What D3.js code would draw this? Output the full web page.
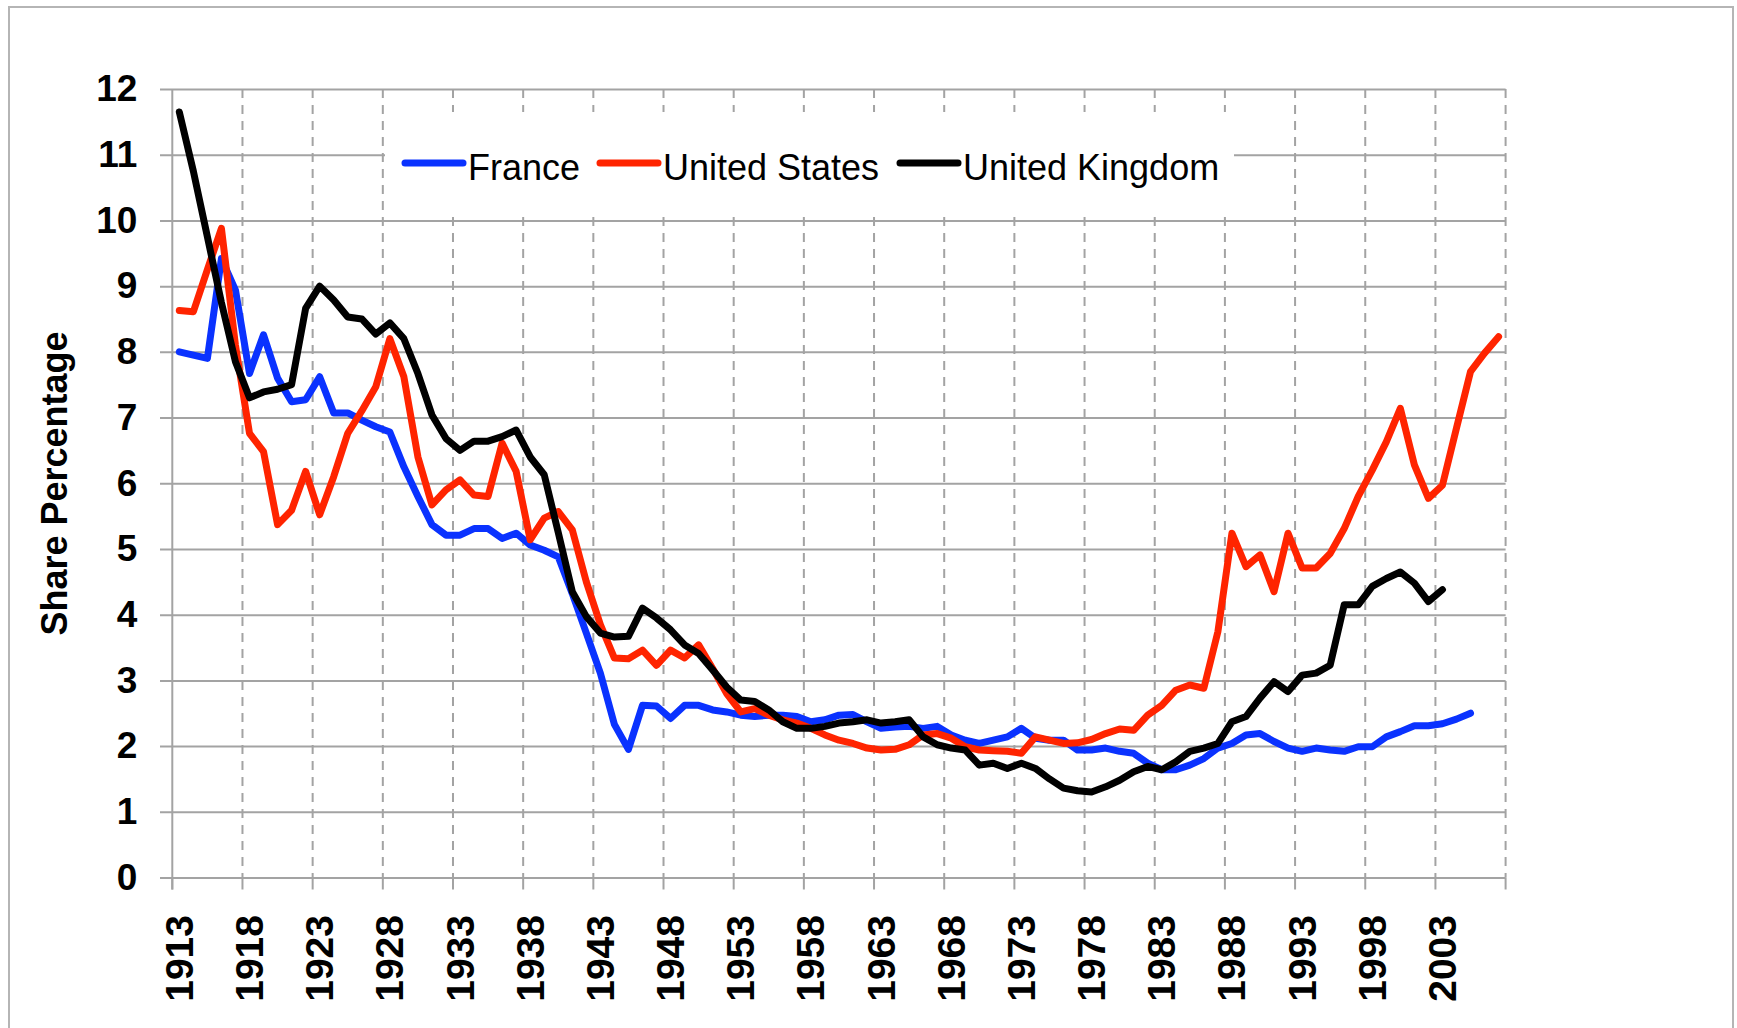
<!DOCTYPE html>
<html>
<head>
<meta charset="utf-8">
<script src="https://cdn.jsdelivr.net/npm/d3@7"></script>
<style>
  html, body { margin: 0; padding: 0; background: #fff; }
  svg { display: block; font-family: "Liberation Sans", Arial, sans-serif; }
</style>
</head>
<body>
<svg id="chart" width="1737" height="1028"></svg>
<script>
// ---------- DATA ----------
const years = d3.range(1913, 2008); // 1913 .. 2007
const tickYears = d3.range(1913, 2004, 5);
const yTicks = d3.range(0, 13);

const france = [
  8.0, 7.95, 7.9, 9.42, 8.94, 7.67, 8.26, 7.6, 7.24, 7.27,
  7.62, 7.07, 7.07, 6.96, 6.86, 6.78, 6.25, 5.8, 5.37, 5.21,
  5.21, 5.31, 5.31, 5.16, 5.24, 5.06, 4.98, 4.88, 4.32, 3.72,
  3.11, 2.33, 1.95, 2.62, 2.61, 2.42, 2.62, 2.62, 2.55, 2.52,
  2.47, 2.45, 2.47, 2.47, 2.45, 2.37, 2.4, 2.47, 2.48, 2.37,
  2.27, 2.29, 2.3, 2.27, 2.3, 2.17, 2.09, 2.04, 2.09, 2.14,
  2.27, 2.12, 2.09, 2.09, 1.94, 1.94, 1.97, 1.92, 1.89, 1.74,
  1.64, 1.64, 1.71, 1.81, 1.97, 2.04, 2.17, 2.19, 2.07, 1.97,
  1.92, 1.97, 1.94, 1.92, 1.99, 1.99, 2.14, 2.22, 2.31, 2.31,
  2.34, 2.41, 2.5, null, null
];

const unitedStates = [
  8.63, 8.61, 9.25, 9.88, 8.1, 6.76, 6.48, 5.37, 5.59, 6.18,
  5.52, 6.1, 6.76, 7.1, 7.47, 8.2, 7.62, 6.4, 5.67, 5.9,
  6.05, 5.82, 5.8, 6.61, 6.18, 5.14, 5.47, 5.57, 5.29, 4.5,
  3.85, 3.34, 3.33, 3.46, 3.23, 3.46, 3.34, 3.54, 3.18, 2.8,
  2.52, 2.57, 2.47, 2.4, 2.35, 2.27, 2.17, 2.09, 2.04, 1.97,
  1.94, 1.95, 2.02, 2.17, 2.19, 2.12, 1.99, 1.94, 1.93, 1.92,
  1.89, 2.14, 2.09, 2.04, 2.05, 2.1, 2.19, 2.26, 2.24, 2.47,
  2.62, 2.85, 2.93, 2.88, 3.74, 5.24, 4.73, 4.91, 4.35, 5.24,
  4.71, 4.71, 4.93, 5.31, 5.8, 6.2, 6.63, 7.14, 6.28, 5.77,
  5.97, 6.84, 7.7, 7.98, 8.23
];

const unitedKingdom = [
  11.65, 10.75, 9.75, 8.75, 7.85, 7.3, 7.39, 7.43, 7.5, 8.66,
  9.0, 8.79, 8.53, 8.5, 8.27, 8.44, 8.2, 7.67, 7.04, 6.68,
  6.5, 6.64, 6.64, 6.71, 6.81, 6.4, 6.13, 5.25, 4.35, 3.97,
  3.72, 3.66, 3.67, 4.1, 3.95, 3.77, 3.54, 3.41, 3.16, 2.9,
  2.7, 2.68, 2.55, 2.37, 2.27, 2.27, 2.3, 2.35, 2.37, 2.4,
  2.35, 2.37, 2.4, 2.14, 2.02, 1.97, 1.94, 1.71, 1.74, 1.66,
  1.74, 1.66, 1.5, 1.36, 1.32, 1.3, 1.38, 1.48, 1.61, 1.69,
  1.64, 1.76, 1.92, 1.97, 2.04, 2.37, 2.45, 2.73, 2.98, 2.83,
  3.08, 3.11, 3.23, 4.15, 4.15, 4.43, 4.55, 4.65, 4.48, 4.2,
  4.38, null, null, null, null
];

const seriesNames = ["France", "United States", "United Kingdom"];
const seriesColors = ["#0a32ff", "#ff2400", "#000000"];
const yTitle = "Share Percentage";

// ---------- LAYOUT ----------
const svg = d3.select("#chart");
const L = 172.3, R = 1505.6, T = 89, B = 877.5;
const gridColor = "#a3a3a3";

const x = d3.scaleBand().domain(years).range([L, R]).padding(0);
const bw = x.bandwidth();
const y = d3.scaleLinear().domain([0, 12]).range([B, T]);

// outer border
svg.append("rect")
  .attr("x", 9).attr("y", 7).attr("width", 1724).attr("height", 1040)
  .attr("fill", "#fff").attr("stroke", "#b5b5b5").attr("stroke-width", 2);

// vertical dashed gridlines at category boundaries
const vLines = tickYears.map(yr => x(yr)).slice(1).concat([R]);
svg.append("g").selectAll("line").data(vLines).join("line")
  .attr("x1", d => d).attr("x2", d => d)
  .attr("y1", T).attr("y2", B)
  .attr("stroke", gridColor).attr("stroke-width", 2)
  .attr("stroke-dasharray", "9,7");

// horizontal gridlines (via y axis with long ticks)
const yGrid = svg.append("g").attr("transform", `translate(${R},0)`)
  .call(d3.axisLeft(y).tickValues(yTicks).tickSize(R - 160).tickFormat(""));
yGrid.select(".domain").remove();
yGrid.selectAll(".tick line").attr("stroke", gridColor).attr("stroke-width", 2);

// x ticks below axis
const xTickPos = tickYears.map(yr => x(yr)).concat([R]);
svg.append("g").selectAll("line").data(xTickPos).join("line")
  .attr("x1", d => d).attr("x2", d => d)
  .attr("y1", B).attr("y2", B + 12)
  .attr("stroke", gridColor).attr("stroke-width", 2);

// y axis line
svg.append("line")
  .attr("x1", L).attr("x2", L).attr("y1", T).attr("y2", B + 12)
  .attr("stroke", gridColor).attr("stroke-width", 2);

// y tick labels
const yAxis = svg.append("g").attr("transform", `translate(${L},0)`)
  .call(d3.axisLeft(y).tickValues(yTicks).tickSize(0).tickPadding(35));
yAxis.select(".domain").remove();
yAxis.selectAll("text")
  .attr("font-family", "'Liberation Sans', Arial, sans-serif")
  .attr("font-size", 37).attr("font-weight", "bold").attr("fill", "#000");

// x tick labels (rotated)
svg.append("g").selectAll("text").data(tickYears).join("text")
  .attr("transform", d => `translate(${x(d) + bw / 2},915) rotate(-90)`)
  .attr("text-anchor", "end")
  .attr("dominant-baseline", "central")
  .attr("font-size", 39).attr("font-weight", "bold").attr("fill", "#000")
  .text(d => d);

// y axis title
svg.append("text")
  .attr("transform", "translate(54,483.5) rotate(-90)")
  .attr("text-anchor", "middle").attr("dominant-baseline", "central")
  .attr("font-size", 36).attr("font-weight", "bold").attr("fill", "#000")
  .text(yTitle);

// legend box
svg.append("rect")
  .attr("x", 385).attr("y", 112).attr("width", 849).attr("height", 105)
  .attr("fill", "#fff");

// lines
const allSeries = [france, unitedStates, unitedKingdom];
const line = d3.line()
  .defined(d => d.v !== null)
  .x(d => x(d.year) + bw / 2)
  .y(d => y(d.v));

allSeries.forEach((vals, i) => {
  const data = years.map((yr, j) => ({ year: yr, v: vals[j] }));
  svg.append("path")
    .datum(data)
    .attr("d", line)
    .attr("fill", "none")
    .attr("stroke", seriesColors[i])
    .attr("stroke-width", 7)
    .attr("stroke-linejoin", "round")
    .attr("stroke-linecap", "round");
});

// legend items
const legendX = [405, 600, 900];
const lg = svg.append("g");
seriesNames.forEach((name, i) => {
  lg.append("line")
    .attr("x1", legendX[i]).attr("x2", legendX[i] + 58)
    .attr("y1", 163).attr("y2", 163)
    .attr("stroke", seriesColors[i]).attr("stroke-width", 7)
    .attr("stroke-linecap", "round");
  lg.append("text")
    .attr("x", legendX[i] + 63).attr("y", 180)
    .attr("font-size", 36).attr("fill", "#000")
    .text(name);
});
</script>
</body>
</html>
